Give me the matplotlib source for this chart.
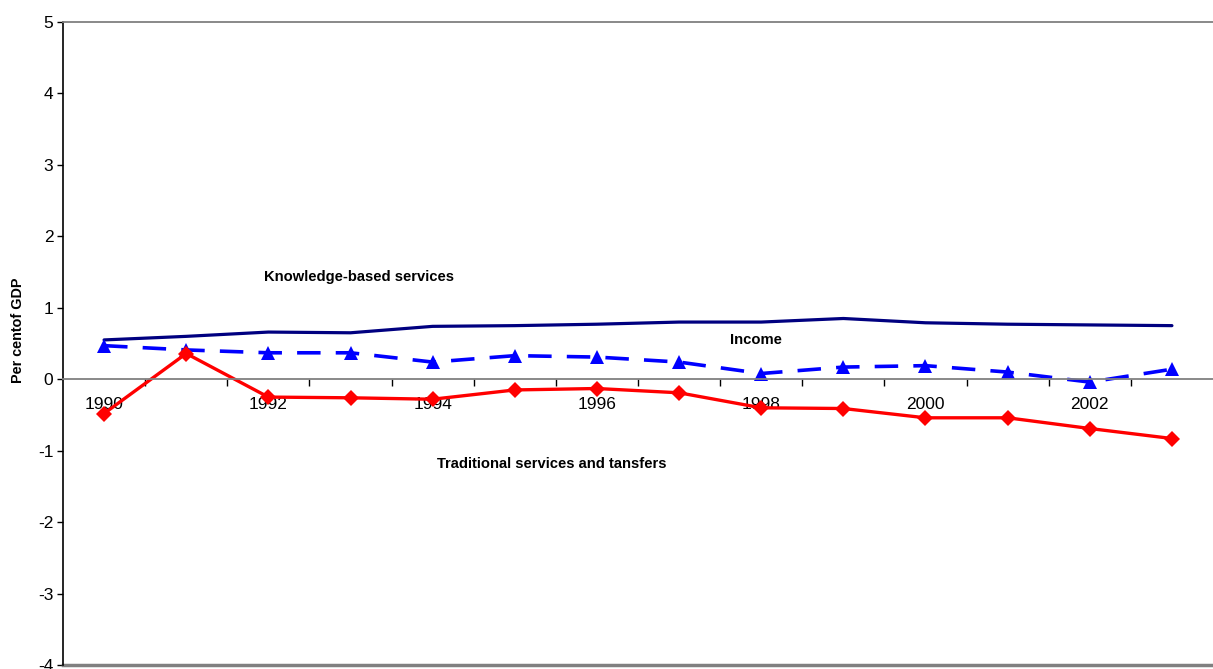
import matplotlib
matplotlib.use("Agg")
import matplotlib.pyplot as plt

plt.rcParams['font.family'] = ['Liberation Sans', 'DejaVu Sans']
plt.rcParams['axes.unicode_minus'] = False

# Data
years = list(range(1990, 2004))
knowledge = [0.55, 0.60, 0.66, 0.65, 0.74, 0.75, 0.77, 0.80, 0.80, 0.85, 0.79, 0.77, 0.76, 0.75]
income = [0.47, 0.41, 0.37, 0.37, 0.24, 0.33, 0.31, 0.24, 0.08, 0.17, 0.19, 0.10, -0.04, 0.14]
traditional = [-0.48, 0.36, -0.25, -0.26, -0.28, -0.15, -0.13, -0.19, -0.40, -0.41, -0.54, -0.54, -0.69, -0.83]
year_labels = ['1990', '1992', '1994', '1996', '1998', '2000', '2002']

fig = plt.figure(figsize=(12.13, 6.69), dpi=100)
ax = fig.add_axes([63 / 1213, 4 / 669, 1 - 63 / 1213, (665 - 22) / 669])

x = list(range(len(years)))
ax.plot(x, knowledge, color='#000080', lw=2.3, solid_capstyle='round')
ax.plot(x, income, color='#0000FF', lw=2.6, dashes=(6.5, 4.2),
        marker='^', markersize=10.5, markeredgewidth=0)
ax.plot(x, traditional, color='#FF0000', lw=2.4,
        marker='D', markersize=8.5, markeredgewidth=0)

ax.set_xlim(-0.5, len(years) - 0.5)
ax.set_ylim(-4, 5)
ax.set_yticks(range(-4, 6))
ax.tick_params(axis='y', labelsize=12.5, length=4, width=1, direction='out', pad=3)

# category axis crossing at zero
ax.spines['bottom'].set_position(('data', 0))
ax.spines['bottom'].set_color('#808080')
ax.spines['bottom'].set_linewidth(1.3)
ax.spines['top'].set_color('#808080')
ax.spines['top'].set_linewidth(1.3)
ax.spines['right'].set_visible(False)
ax.spines['left'].set_linewidth(1.2)
ax.axhline(-4, color='#808080', lw=2.5, clip_on=False)

ax.set_xticks([i - 0.5 for i in range(1, len(years))])
ax.set_xticklabels([])
ax.tick_params(axis='x', which='major', length=5, width=1, direction='out', color='black')
ax.set_xticks(list(range(0, len(years), 2)), minor=True)
ax.set_xticklabels(year_labels, minor=True)
ax.tick_params(axis='x', which='minor', length=0, labelsize=12.5, pad=13)

ax.set_ylabel('Per centof GDP', fontsize=10.4, fontweight='bold')
ax.yaxis.set_label_coords(-0.033, 0.521)

ax.text(3.1, 1.43, 'Knowledge-based services', fontsize=10.6, fontweight='bold', ha='center', va='center')
ax.text(7.93, 0.55, 'Income', fontsize=10.6, fontweight='bold', ha='center', va='center')
ax.text(5.45, -1.19, 'Traditional services and tansfers', fontsize=10.6, fontweight='bold', ha='center', va='center')

fig.savefig('out.png', dpi=100)
